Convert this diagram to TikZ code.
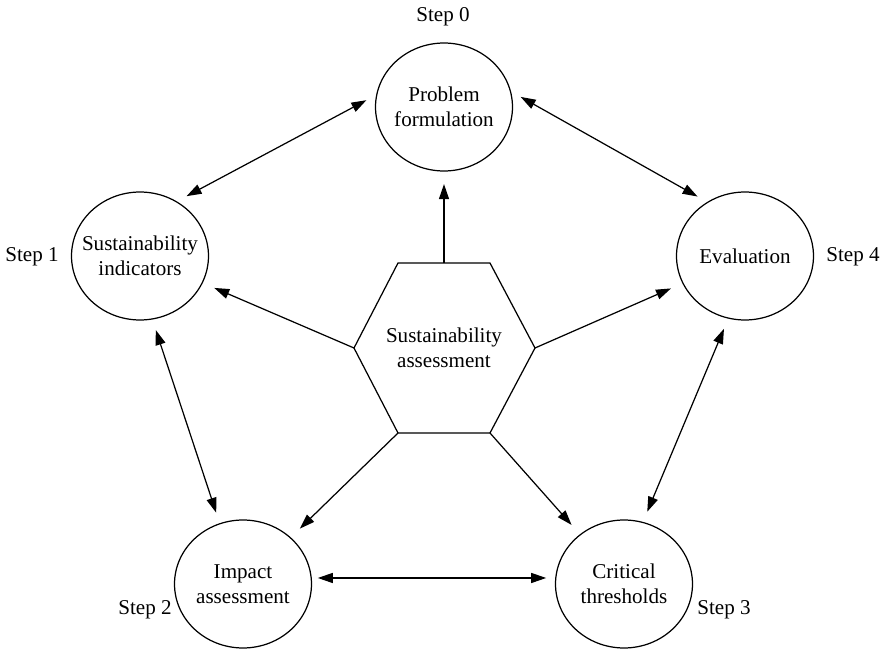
\documentclass[tikz,border=0pt]{standalone}
\usepackage{fontspec}
\setmainfont{Liberation Serif}
\usetikzlibrary{
  shapes.geometric,
  arrows.meta,
  calc
}

\begin{document}
\begin{tikzpicture}[
      x=0.02cm, y=-0.02cm,
      font=\fontsize{12}{14}\selectfont,
      >={Triangle[length=0.3cm,width=0.2cm]},
      stage/.style={
        ellipse,
        draw,
        line width=0.7pt,
        minimum width=2.74cm,
        minimum height=2.56cm,
        inner xsep=-8pt,
        align=center
      },
      steplabel/.style={
        inner sep=0pt
      },
      hexagon/.style={
        line width=0.7pt
      },
      link/.style={
        <->,
        line width=0.7pt,
        shorten <=0.22cm,
        shorten >=0.22cm
      },
      feed/.style={
        ->,
        line width=0.7pt,
        shorten >=0.25cm
      }
    ]

    \useasboundingbox (0,0) rectangle (887,649);

    % Steps
    \node[stage] (prob) at (444,107) {Problem\\formulation};
    \node[stage] (ind) at (140,256) {Sustainability\\indicators};
    \node[stage] (eval) at (745,256) {Evaluation};
    \node[stage] (imp) at (243,584) {Impact\\assessment};
    \node[stage] (crit) at (624,584) {Critical\\thresholds};

    \node[steplabel] (step0) at (443,17) {Step 0};
    \node[steplabel] (step1) at (32,257) {Step 1};
    \node[steplabel] (step2) at (145,610) {Step 2};
    \node[steplabel] (step3) at (724,610) {Step 3};
    \node[steplabel] (step4) at (853,257) {Step 4};

    % Hexagon
    \coordinate (hexTL) at (398,263);
    \coordinate (hexTR) at (490,263);
    \coordinate (hexR) at (535,348);
    \coordinate (hexBR) at (490,433);
    \coordinate (hexBL) at (398,433);
    \coordinate (hexL) at (354,348);
    \coordinate (hexT) at ($(hexTL)!0.5!(hexTR)$);

    \draw[hexagon] (hexTL) -- (hexTR) -- (hexR) -- (hexBR) -- (hexBL) -- (hexL) -- cycle;
    \node[align=center] (core) at (444,348) {Sustainability\\assessment};

    % From the centre
    \draw[feed] (hexT) -- (prob);
    \draw[feed] (hexL) -- (ind);
    \draw[feed] (hexR) -- (eval);
    \draw[feed] (hexBL) -- (imp);
    \draw[feed] (hexBR) -- (crit);

    % Between steps
    \draw[link] (prob.170) -- (ind.56);
    \draw[link] (prob.13) -- (eval.125);
    \draw[link] (ind.-79) -- (imp.111);
    \draw[link] (eval.-105) -- (crit.73);
    \draw[link, shorten <=0.12cm, shorten >=0.18cm] (imp.5) -- (crit.175);

    \end{tikzpicture}
\end{document}
